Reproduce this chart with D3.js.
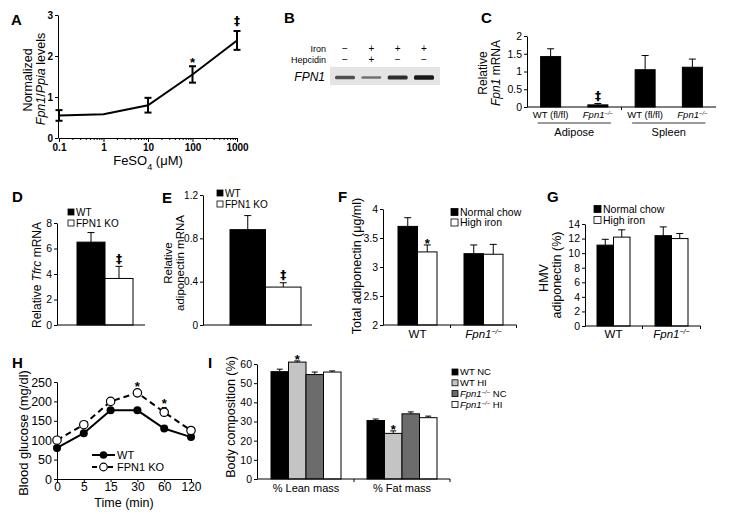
<!DOCTYPE html>
<html><head><meta charset="utf-8">
<script src="https://cdn.jsdelivr.net/npm/d3@7"></script>
<style>
body{margin:0;background:#fff;}
svg{font-family:"Liberation Sans",Arial,sans-serif;}
.dag{fill:#000 !important;}
</style></head><body>
<svg id="c" width="744" height="514"></svg>
<script>
// ---------- DATA ----------
// A
const aConc = [0.1, 1, 10, 100, 1000];
const aVal = [0.55, 0.58, 0.8, 1.55, 2.38];
const aErr = [0.13, 0, 0.18, 0.2, 0.23];
const aSig = ["", "", "", "*", "‡"];
const aTicksX = [0.1, 1, 10, 100, 1000];
const aTicksY = [0, 1, 2, 3];
// B
const bIron = ["−", "+", "+", "+"];
const bHepcidin = ["−", "+", "−", "−"];
const bBand = [0.6, 0.35, 0.85, 1.0];
// C
const cCats = ["WT (fl/fl)", "Fpn1−/−", "WT (fl/fl)", "Fpn1−/−"];
const cTissues = ["Adipose", "Spleen"];
const cVal = [1.42, 0.06, 1.05, 1.12];
const cErr = [0.22, 0.04, 0.4, 0.23];
const cSig = ["", "‡", "", ""];
const cTicks = [0, 0.5, 1, 1.5, 2];
// D
const dGroups = ["WT", "FPN1 KO"];
const dVal = [6.5, 3.65];
const dErr = [0.75, 0.95];
const dSig = ["", "‡"];
const dTicks = [0, 2, 4, 6, 8];
// E
const eGroups = ["WT", "FPN1 KO"];
const eVal = [0.88, 0.35];
const eErr = [0.13, 0.04];
const eSig = ["", "‡"];
const eTicks = [0, 0.4, 0.8, 1.2];
// F & G
const fgGenotypes = ["WT", "Fpn1−/−"];
const fgDiets = ["Normal chow", "High iron"];
const fVal = [[3.7, 3.26], [3.23, 3.22]];
const fErr = [[0.15, 0.12], [0.15, 0.17]];
const fSig = [["", "*"], ["", ""]];
const fTicks = [2, 2.5, 3, 3.5, 4];
const gVal = [[11.1, 12.2], [12.4, 12.0]];
const gErr = [[0.8, 1.0], [1.2, 0.7]];
const gTicks = [0, 2, 4, 6, 8, 10, 12, 14];
// H
const hTimes = ["0", "5", "15", "30", "60", "120"];
const hSeries = ["WT", "FPN1 KO"];
const hWT = [80, 118, 177, 177, 130, 108];
const hWTErr = [4, 5, 5, 5, 6, 5];
const hKO = [100, 140, 200, 222, 172, 125];
const hKOErr = [5, 5, 5, 6, 12, 5];
const hSig = ["", "", "", "*", "*", ""];
const hTicks = [0, 50, 100, 150, 200, 250];
// I
const iMeasures = ["% Lean mass", "% Fat mass"];
const iGroups = ["WT NC", "WT HI", "Fpn1−/− NC", "Fpn1−/− HI"];
const iVal = [[56, 61, 54.5, 55.8], [30.5, 23.8, 34, 32]];
const iErr = [[1.3, 0.6, 1.3, 0.6], [0.8, 1.3, 1.0, 0.8]];
const iSig = [["", "*", "", ""], ["", "*", "", ""]];
const iTicks = [0, 10, 20, 30, 40, 50, 60];
const iColors = ["#000000", "#c4c4c4", "#6c6c6c", "#ffffff"];

// ---------- HELPERS ----------
const FONT = '"Liberation Sans", Arial, sans-serif';
const svg = d3.select("#c");

function rich(t, str) {
  const parts = str.split("Fpn1−/−");
  parts.forEach((p, i) => {
    if (i > 0) {
      t.append("tspan").attr("font-style", "italic").text("Fpn1");
      t.append("tspan").attr("font-style", "italic").attr("font-size", "0.62em")
        .attr("baseline-shift", "super").text("−/−");
    }
    if (p) t.append("tspan").text(p);
  });
  return t;
}
function txt(x, y, s, fs, anchor, extra) {
  const t = svg.append("text").attr("x", x).attr("y", y).attr("font-size", fs)
    .attr("text-anchor", anchor || "start").attr("fill", "#000");
  rich(t, s);
  if (extra) extra(t);
  return t;
}
function panel(l, x, y) {
  svg.append("text").attr("x", x).attr("y", y).attr("font-size", 15)
    .attr("font-weight", "bold").text(l);
}
function vlabel(parts, bx, cy, fs) {
  const t = svg.append("text").attr("transform", `translate(${bx},${cy}) rotate(-90)`)
    .attr("text-anchor", "middle").attr("font-size", fs);
  parts.forEach(p => {
    const s = t.append("tspan").text(p[0]);
    if (p[1]) s.attr("font-style", "italic");
  });
  return t;
}
function yAxis(y, x, ticks, fmt, fs, bold) {
  const ax = svg.append("g").attr("transform", `translate(${x},0)`)
    .call(d3.axisLeft(y).tickValues(ticks).tickFormat(fmt).tickSize(3).tickSizeOuter(0).tickPadding(2));
  ax.attr("font-family", FONT).attr("font-size", fs);
  if (bold) ax.attr("font-weight", "bold");
  ax.selectAll("text").attr("fill", "#000");
  ax.selectAll("path,line").attr("stroke", "#000");
  return ax;
}
function hline(x1, x2, y, w) {
  svg.append("line").attr("x1", x1).attr("x2", x2).attr("y1", y).attr("y2", y)
    .attr("stroke", "#000").attr("stroke-width", w || 1);
}
function vtick(x, y, len) {
  svg.append("line").attr("x1", x).attr("x2", x).attr("y1", y).attr("y2", y + len)
    .attr("stroke", "#000");
}
function errUp(x, y0, y1, cap, col) {
  const g = svg.append("g").attr("stroke", col || "#000").attr("stroke-width", 1);
  g.append("line").attr("x1", x).attr("x2", x).attr("y1", y0).attr("y2", y1);
  g.append("line").attr("x1", x - cap / 2).attr("x2", x + cap / 2).attr("y1", y1).attr("y2", y1);
}
function sig(x, yTop, s) {
  if (!s) return;
  if (s === "*") txt(x, yTop + 3, s, 13, "middle", t => t.attr("font-weight", "bold"));
  else svg.append("text").attr("class", "dag").attr("x", x).attr("y", yTop - 3.5)
    .attr("text-anchor", "middle").attr("font-size", 12).attr("font-weight", "bold")
    .attr("font-family", '"DejaVu Sans", sans-serif').style("fill", "#000").text(s);
}
function legendRow(x, y, fill, label, fs, size) {
  svg.append("rect").attr("x", x).attr("y", y - size / 2).attr("width", size).attr("height", size)
    .attr("fill", fill).attr("stroke", "#000").attr("stroke-width", 0.8);
  txt(x + size + 2, y + fs * 0.36, label, fs);
}
function bar(x, w, y0, y1, fill) {
  svg.append("rect").attr("x", x).attr("y", Math.min(y0, y1)).attr("width", w)
    .attr("height", Math.abs(y0 - y1)).attr("fill", fill).attr("stroke", "#000").attr("stroke-width", 1);
}

// ---------- PANEL A ----------
panel("A", 11, 25);
{
  const x = d3.scaleLog().domain([0.1, 1000]).range([59, 237]);
  const y = d3.scaleLinear().domain([0, 3]).range([138, 15]);
  yAxis(y, 58, aTicksY, d3.format("d"), 10, true);
  const minor = x.ticks().filter(v => !aTicksX.includes(v));
  const mx = svg.append("g").attr("transform", "translate(0,138)")
    .call(d3.axisBottom(x).tickValues(minor).tickFormat("").tickSize(2).tickSizeOuter(0));
  mx.selectAll("path,line").attr("stroke", "#000");
  const ax = svg.append("g").attr("transform", "translate(0,138)")
    .call(d3.axisBottom(x).tickValues(aTicksX).tickFormat(d3.format("~g")).tickSize(4).tickSizeOuter(0).tickPadding(2));
  ax.attr("font-family", FONT).attr("font-size", 10).attr("font-weight", "bold");
  ax.selectAll("text").attr("fill", "#000");
  ax.selectAll("path,line").attr("stroke", "#000");
  const pts = aConc.map((c, i) => [x(c), y(aVal[i])]);
  svg.append("path").attr("d", d3.line()(pts)).attr("fill", "none").attr("stroke", "#000").attr("stroke-width", 2);
  aConc.forEach((c, i) => {
    if (aErr[i] > 0) {
      const g = svg.append("g").attr("stroke", "#000").attr("stroke-width", 2);
      const xx = x(c), lo = y(aVal[i] - aErr[i]), hi = y(aVal[i] + aErr[i]);
      g.append("line").attr("x1", xx).attr("x2", xx).attr("y1", lo).attr("y2", hi);
      g.append("line").attr("x1", xx - 3.5).attr("x2", xx + 3.5).attr("y1", lo).attr("y2", lo);
      g.append("line").attr("x1", xx - 3.5).attr("x2", xx + 3.5).attr("y1", hi).attr("y2", hi);
    }
    sig(x(c), y(aVal[i] + aErr[i]) - 2, aSig[i]);
  });
  vlabel([["Normalized", false]], 32, 80, 12.5);
  vlabel([["Fpn1", true], ["/", false], ["Ppia", true], [" levels", false]], 45, 79, 12.5);
  const t = svg.append("text").attr("x", 148).attr("y", 165).attr("text-anchor", "middle").attr("font-size", 13);
  t.append("tspan").text("FeSO");
  t.append("tspan").attr("font-size", "0.7em").attr("baseline-shift", "sub").text("4");
  t.append("tspan").text(" (μM)");
}

// ---------- PANEL B ----------
panel("B", 284, 23);
{
  const lanes = d3.scalePoint().domain(d3.range(bIron.length)).range([345, 424]);
  txt(326, 52, "Iron", 9, "end");
  txt(326, 63, "Hepcidin", 9, "end");
  bIron.forEach((s, i) => txt(lanes(i), 52, s, 10, "middle"));
  bHepcidin.forEach((s, i) => txt(lanes(i), 63, s, 10, "middle"));
  const defs = svg.append("defs");
  defs.append("filter").attr("id", "blur").append("feGaussianBlur").attr("stdDeviation", 0.7);
  svg.append("rect").attr("x", 330).attr("y", 67).attr("width", 110).attr("height", 18).attr("fill", "#e4e4e4");
  bBand.forEach((b, i) => {
    const h = 1.5 + 3 * b;
    const g = Math.round(160 - 135 * b);
    svg.append("rect").attr("x", lanes(i) - 10).attr("y", 77.5 - h / 2).attr("width", 20).attr("height", h)
      .attr("rx", 1.5).attr("fill", `rgb(${g},${g},${g})`).attr("filter", "url(#blur)");
  });
  txt(325, 81, "FPN1", 12, "end", t => t.attr("font-style", "italic"));
}

// ---------- PANEL C ----------
panel("C", 481, 23);
{
  const x = d3.scalePoint().domain(d3.range(cCats.length)).range([527, 716]).padding(0.5);
  const y = d3.scaleLinear().domain([0, 2]).range([107, 36]);
  const bw = 20;
  cVal.forEach((v, i) => {
    bar(x(i) - bw / 2, bw, y(0), y(v), "#000");
    errUp(x(i), y(v), y(v + cErr[i]), 7);
    sig(x(i), y(v + cErr[i]), cSig[i]);
  });
  yAxis(y, 527, cTicks, d3.format("~g"), 10.5);
  hline(527, 716, 107);
  vtick((x(1) + x(2)) / 2, 107, 3);
  cCats.forEach((c, i) => txt(x(i), 118, c, 9.5, "middle"));
  cTissues.forEach((t, k) => {
    const x0 = x(2 * k) - 13, x1 = x(2 * k + 1) + 13;
    hline(x0, x1, 123, 0.8);
    txt((x0 + x1) / 2, 136, t, 11, "middle");
  });
  vlabel([["Relative", false]], 487, 73, 12);
  vlabel([["Fpn1", true], [" mRNA", false]], 500, 73, 12);
}

// ---------- PANEL D ----------
panel("D", 12, 202);
{
  const x = d3.scaleBand().domain(dGroups).range([77, 133]);
  const y = d3.scaleLinear().domain([0, 8]).range([325, 223]);
  dGroups.forEach((g, i) => {
    bar(x(g), x.bandwidth(), y(0), y(dVal[i]), i === 0 ? "#000" : "#fff");
    errUp(x(g) + x.bandwidth() / 2, y(dVal[i]), y(dVal[i] + dErr[i]), 7);
    sig(x(g) + x.bandwidth() / 2, y(dVal[i] + dErr[i]), dSig[i]);
  });
  yAxis(y, 57, dTicks, d3.format("d"), 10.5);
  hline(57, 145, 325);
  legendRow(68, 212, "#000", dGroups[0], 10, 6);
  legendRow(68, 223, "#fff", dGroups[1], 10, 6);
  vlabel([["Relative ", false], ["Tfrc", true], [" mRNA", false]], 41, 275, 12);
}

// ---------- PANEL E ----------
panel("E", 162, 203);
{
  const x = d3.scaleBand().domain(eGroups).range([230, 301]);
  const y = d3.scaleLinear().domain([0, 1.2]).range([325, 195]);
  eGroups.forEach((g, i) => {
    bar(x(g), x.bandwidth(), y(0), y(eVal[i]), i === 0 ? "#000" : "#fff");
    errUp(x(g) + x.bandwidth() / 2, y(eVal[i]), y(eVal[i] + eErr[i]), 7);
    sig(x(g) + x.bandwidth() / 2, y(eVal[i] + eErr[i]), eSig[i]);
  });
  yAxis(y, 203, eTicks, d3.format("~g"), 10);
  hline(203, 312, 325);
  legendRow(217, 193, "#000", eGroups[0], 10, 6);
  legendRow(217, 204, "#fff", eGroups[1], 10, 6);
  vlabel([["Relative", false]], 172, 263, 11.5);
  vlabel([["adiponectin mRNA", false]], 184, 263, 11.5);
}

// ---------- PANELS F & G ----------
function grouped(vals, errs, sigs, range, W, y, axisX, xEnd, ticks, labelY) {
  const x0 = d3.scaleBand().domain(fgGenotypes).range(range);
  const x1 = d3.scaleBand().domain(fgDiets).range([0, W]);
  fgGenotypes.forEach((g, gi) => {
    const base = x0(g) + x0.bandwidth() / 2 - W / 2;
    fgDiets.forEach((d, di) => {
      const v = vals[gi][di];
      const bx = base + x1(d);
      bar(bx, x1.bandwidth(), y(y.domain()[0]), y(v), di === 0 ? "#000" : "#fff");
      errUp(bx + x1.bandwidth() / 2, y(v), y(v + errs[gi][di]), 7);
      if (sigs) sig(bx + x1.bandwidth() / 2, y(v + errs[gi][di]), sigs[gi][di]);
    });
    txt(x0(g) + x0.bandwidth() / 2, labelY, g, 11.5, "middle");
    vtick(x0(g) + x0.bandwidth(), y.range()[0], 3);
  });
  yAxis(y, axisX, ticks, d3.format("~g"), 10.5);
  hline(axisX, xEnd, y.range()[0]);
}
panel("F", 338, 202);
{
  const y = d3.scaleLinear().domain([2, 4]).range([325, 209]);
  grouped(fVal, fErr, fSig, [384.5, 516.5], 39, y, 383, 516.5, fTicks, 338);
  legendRow(451, 212, "#000", fgDiets[0], 10.5, 7);
  legendRow(451, 222.5, "#fff", fgDiets[1], 10.5, 7);
  vlabel([["Total adiponectin (μg/ml)", false]], 361, 266, 12.5);
}
panel("G", 547, 202);
{
  const y = d3.scaleLinear().domain([0, 14]).range([326, 224]);
  grouped(gVal, gErr, null, [584.5, 700.5], 33, y, 585, 700.5, gTicks, 338);
  legendRow(594, 209, "#000", fgDiets[0], 10.5, 7);
  legendRow(594, 220, "#fff", fgDiets[1], 10.5, 7);
  vlabel([["HMV", false]], 548, 278, 12.5);
  vlabel([["adiponectin (%)", false]], 561, 275, 12.5);
}

// ---------- PANEL H ----------
panel("H", 12, 368);
{
  const x = d3.scalePoint().domain(hTimes).range([57, 191]);
  const y = d3.scaleLinear().domain([0, 250]).range([479, 382]);
  const yy = yAxis(y, 57, hTicks, d3.format("d"), 12.5);
  yy.selectAll(".tick text").attr("x", -5);
  const xa = svg.append("g").attr("transform", "translate(0,479)")
    .call(d3.axisBottom(x).tickSize(3).tickSizeOuter(0).tickPadding(0));
  xa.attr("font-family", FONT).attr("font-size", 12);
  xa.selectAll("text").attr("fill", "#000");
  xa.selectAll("path,line").attr("stroke", "#000");
  const line = d3.line().x((d, i) => x(hTimes[i])).y(d => y(d));
  hTimes.forEach((t, i) => {
    errUp(x(t), y(hKO[i]), y(hKO[i] + hKOErr[i]), 5);
    errUp(x(t), y(hWT[i]), y(hWT[i] + hWTErr[i]), 5);
  });
  svg.append("path").attr("d", line(hKO)).attr("fill", "none").attr("stroke", "#000")
    .attr("stroke-width", 2).attr("stroke-dasharray", "6,4");
  svg.append("path").attr("d", line(hWT)).attr("fill", "none").attr("stroke", "#000").attr("stroke-width", 2);
  hTimes.forEach((t, i) => {
    svg.append("circle").attr("cx", x(t)).attr("cy", y(hWT[i])).attr("r", 4).attr("fill", "#000");
    svg.append("circle").attr("cx", x(t)).attr("cy", y(hKO[i])).attr("r", 4.2).attr("fill", "#fff")
      .attr("stroke", "#000").attr("stroke-width", 1.2);
    sig(x(t), y(hKO[i] + hKOErr[i]) - 3, hSig[i]);
  });
  hline(92, 115, 455, 2);
  svg.append("circle").attr("cx", 103.5).attr("cy", 455).attr("r", 3.8).attr("fill", "#000");
  svg.append("line").attr("x1", 92).attr("x2", 115).attr("y1", 467).attr("y2", 467)
    .attr("stroke", "#000").attr("stroke-width", 2).attr("stroke-dasharray", "5,3");
  svg.append("circle").attr("cx", 103.5).attr("cy", 467).attr("r", 3.8).attr("fill", "#fff")
    .attr("stroke", "#000").attr("stroke-width", 1.2);
  txt(117, 459, hSeries[0], 11);
  txt(117, 471, hSeries[1], 11);
  vlabel([["Blood glucose (mg/dl)", false]], 28, 433, 13);
  txt(124, 507, "Time (min)", 12.5, "middle");
}

// ---------- PANEL I ----------
panel("I", 208, 368);
{
  const x0 = d3.scaleBand().domain(iMeasures).range([258, 450]);
  const W = 70;
  const x1 = d3.scaleBand().domain(iGroups).range([0, W]);
  const y = d3.scaleLinear().domain([0, 60]).range([479, 364]);
  iMeasures.forEach((m, mi) => {
    const base = x0(m) + x0.bandwidth() / 2 - W / 2;
    iGroups.forEach((g, gi) => {
      const v = iVal[mi][gi];
      const bx = base + x1(g);
      bar(bx, x1.bandwidth(), y(0), y(v), iColors[gi]);
      errUp(bx + x1.bandwidth() / 2, y(v), y(v + iErr[mi][gi]), 6);
      sig(bx + x1.bandwidth() / 2, y(v + iErr[mi][gi]), iSig[mi][gi]);
    });
    txt(x0(m) + x0.bandwidth() / 2, 492, m, 11, "middle");
    vtick(x0(m) + x0.bandwidth(), 479, 3);
  });
  yAxis(y, 257, iTicks, d3.format("d"), 10.5);
  hline(257, 450, 479);
  iGroups.forEach((g, gi) => legendRow(452, 372 + gi * 10.8, iColors[gi], g, 9.5, 6));
  vlabel([["Body composition (%)", false]], 235, 417, 12.5);
}
</script>
</body></html>
